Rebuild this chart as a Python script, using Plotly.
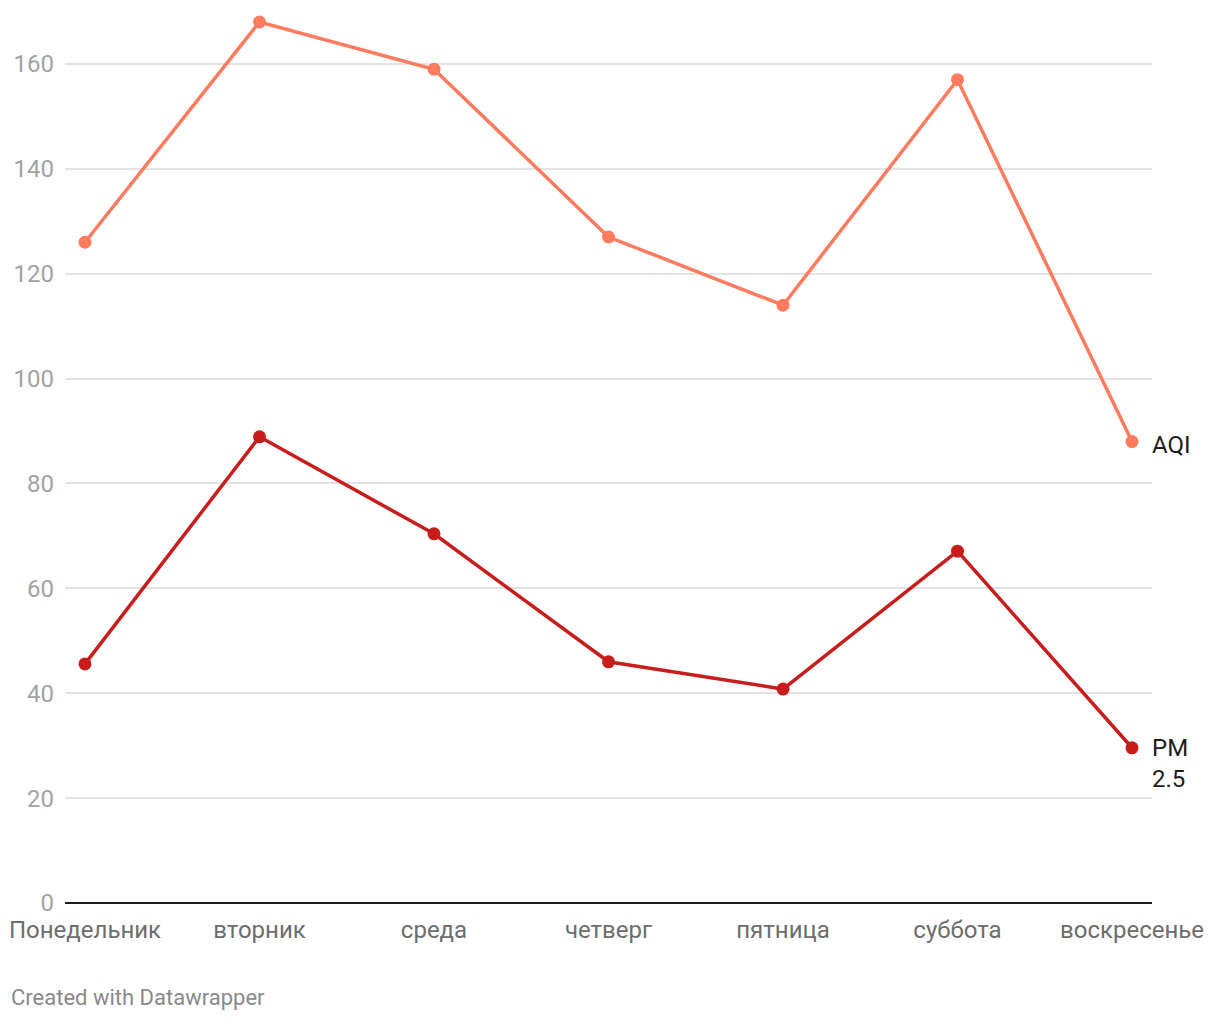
import plotly.graph_objects as go

days = ["Понедельник", "вторник", "среда", "четверг", "пятница", "суббота", "воскресенье"]
aqi = [126, 168, 159, 127, 114, 157, 88]
pm25 = [45.6, 88.9, 70.4, 46.0, 40.8, 67.1, 29.6]
y_ticks = [0, 20, 40, 60, 80, 100, 120, 140, 160]

AQI_COLOR = "#fd7b5f"
PM_COLOR = "#c71e1d"
FONT = "Roboto"

xs = list(range(len(days)))

fig = go.Figure()
fig.add_trace(go.Scatter(x=xs, y=aqi, mode="lines+markers", name="AQI",
                         line=dict(color=AQI_COLOR, width=3.5),
                         marker=dict(color=AQI_COLOR, size=13), hoverinfo="skip"))
fig.add_trace(go.Scatter(x=xs, y=pm25, mode="lines+markers", name="PM 2.5",
                         line=dict(color=PM_COLOR, width=3.5),
                         marker=dict(color=PM_COLOR, size=13), hoverinfo="skip"))

fig.add_annotation(x=xs[-1], y=aqi[-1], text="AQI", showarrow=False,
                   xanchor="left", yanchor="middle", xshift=18, yshift=-3,
                   font=dict(family=FONT, size=24, color="#1d1d1d"))
fig.add_annotation(x=xs[-1], y=pm25[-1], text="PM<br>2.5", showarrow=False,
                   xanchor="left", yanchor="top", xshift=18, yshift=16,
                   align="left",
                   font=dict(family=FONT, size=24, color="#1d1d1d"))

fig.add_annotation(x=0, y=0, xref="paper", yref="paper", xanchor="left", yanchor="middle",
                   text="Created with Datawrapper", showarrow=False,
                   xshift=-56, yshift=-94,
                   font=dict(family=FONT, size=22, color="#8a8a8a"))

fig.update_layout(
    width=1220, height=1020,
    margin=dict(l=65, r=68, t=0, b=117),
    paper_bgcolor="white", plot_bgcolor="white",
    showlegend=False,
    font=dict(family=FONT),
    xaxis=dict(range=[-0.1146, 6.1146], tickvals=xs, ticktext=days,
               showgrid=False, zeroline=False, showline=False, ticks="",
               tickfont=dict(family=FONT, size=24, color="#6d6d6d"),
               ticklabelstandoff=10),
    yaxis=dict(range=[0, 172.2], tickvals=y_ticks, showgrid=True,
               gridcolor="#e3e3e3", gridwidth=1.5,
               zeroline=True, zerolinecolor="#1d1d1d", zerolinewidth=2,
               showline=False, ticks="",
               tickfont=dict(family=FONT, size=24, color="#a3a3a3"),
               ticklabelstandoff=10),
)

fig.write_html("out.html")
